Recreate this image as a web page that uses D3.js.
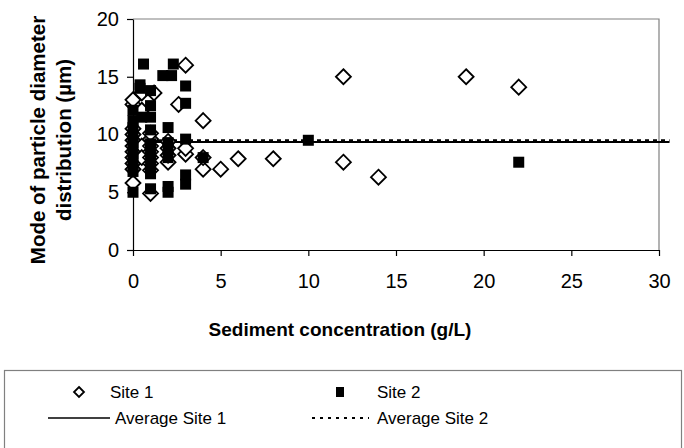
<!DOCTYPE html>
<html>
<head>
<meta charset="utf-8">
<script src="https://cdn.jsdelivr.net/npm/d3@7"></script>
<style>
  body { margin: 0; background: #fff; }
  text { font-family: Arial, "Liberation Sans", sans-serif; fill: #000; }
</style>
</head>
<body>
<div id="chart"></div>
<script>
// Site 1 (open diamonds)
var site1X = [0, 0, 0, 0, 0, 0, 0, 0, 0, 0, 0,
  0.5, 0.5, 0.5, 0.5,
  1, 1, 1, 1, 1, 1, 1, 1, 1.2,
  2, 2, 2, 2, 2.6,
  3, 3, 3, 4, 4, 4, 5, 6, 8, 12, 12, 14, 19, 22];
var site1Y = [5.8, 7.0, 7.5, 8.0, 8.5, 9.0, 9.5, 10.0, 10.5, 12.6, 13.0,
  13.6, 12.1, 9.0, 8.0,
  4.9, 6.9, 7.5, 8.0, 8.5, 9.0, 9.6, 10.1, 13.6,
  7.6, 8.2, 8.8, 9.4, 12.6,
  16.0, 8.3, 8.8, 11.2, 7.0, 8.0, 7.0, 7.9, 7.9, 15.0, 7.6, 6.3, 15.0, 14.1];

// Site 2 (filled squares)
var site2X = [0, 0, 0, 0, 0, 0, 0, 0, 0, 0, 0,
  0.4, 0.4, 0.5, 0.6,
  1, 1, 1, 1, 1, 1, 1, 1, 1, 1,
  1.7, 2, 2, 2, 2, 2, 2, 2.2, 2.3,
  3, 3, 3, 3, 3, 4, 10, 22];
var site2Y = [5.0, 6.8, 7.3, 7.8, 8.3, 8.8, 9.3, 9.8, 10.6, 11.2, 12.1,
  14.3, 14.0, 11.5, 16.1,
  5.3, 6.6, 7.3, 8.0, 8.6, 9.2, 10.4, 11.5, 12.5, 13.8,
  15.1, 5.0, 5.5, 8.0, 8.7, 9.3, 10.6, 15.1, 16.1,
  5.7, 6.5, 9.6, 12.7, 14.2, 8.0, 9.5, 7.6];

// averages
var avgSite1 = 9.35;
var avgSite2 = 9.5;
var avgRange = [0, 30.6];

var xTicks = [0, 5, 10, 15, 20, 25, 30];
var yTicks = [0, 5, 10, 15, 20];

var svgWidth = 684, svgHeight = 448;
var margin = {top: 19, right: 25, bottom: 198, left: 133};
var width = svgWidth - margin.left - margin.right;
var height = svgHeight - margin.top - margin.bottom;

var svg = d3.select('#chart').append('svg')
  .attr('width', svgWidth)
  .attr('height', svgHeight);

var chartGroup = svg.append('g')
  .attr('transform', 'translate(' + margin.left + ',' + margin.top + ')');

var xScale = d3.scaleLinear().domain([0, 30]).range([0, width]);
var yScale = d3.scaleLinear().domain([0, 20]).range([height, 0]);

// frame (top and right in grey)
chartGroup.append('path')
  .attr('d', 'M0,0H' + width + 'V' + height)
  .attr('fill', 'none')
  .attr('stroke', '#808080')
  .attr('stroke-width', 1.2);

var bottomAxis = d3.axisBottom(xScale).tickValues(xTicks).tickSize(6).tickSizeOuter(0);
var leftAxis = d3.axisLeft(yScale).tickValues(yTicks).tickSize(6).tickSizeOuter(0);

var gx = chartGroup.append('g')
  .attr('transform', 'translate(0,' + height + ')')
  .call(bottomAxis);
var gy = chartGroup.append('g').call(leftAxis);

[gx, gy].forEach(function(g) {
  g.selectAll('path, line').attr('stroke', '#000').attr('stroke-width', 1.2);
  g.selectAll('text').style('font-size', '20px').attr('font-family', null);
});
gx.selectAll('text').attr('dy', '0.71em').attr('y', 24);
gy.selectAll('text').attr('x', -14);

// average lines
var line = d3.line()
  .x(function(d) { return xScale(d[0]); })
  .y(function(d) { return yScale(d[1]); });

chartGroup.append('path')
  .datum(avgRange.map(function(x) { return [x, avgSite1]; }))
  .attr('d', line)
  .attr('fill', 'none')
  .attr('stroke', '#000')
  .attr('stroke-width', 2);

chartGroup.append('path')
  .datum(avgRange.map(function(x) { return [x, avgSite2]; }))
  .attr('d', line)
  .attr('fill', 'none')
  .attr('stroke', '#000')
  .attr('stroke-width', 2)
  .attr('stroke-dasharray', '4,4');

var site1 = site1X.map(function(x, i) { return {x: x, y: site1Y[i]}; });
var site2 = site2X.map(function(x, i) { return {x: x, y: site2Y[i]}; });

// Site 1 diamonds (drawn first, squares sit on top)
var dr = 7.5;
function diamond(cx, cy, r) {
  return 'M' + cx + ',' + (cy - r) + 'L' + (cx + r) + ',' + cy +
    'L' + cx + ',' + (cy + r) + 'L' + (cx - r) + ',' + cy + 'Z';
}
chartGroup.selectAll('path.site1')
  .data(site1)
  .enter()
  .append('path')
  .attr('class', 'site1')
  .attr('d', function(d) { return diamond(xScale(d.x), yScale(d.y), dr); })
  .attr('fill', '#fff')
  .attr('stroke', '#000')
  .attr('stroke-width', 1.8);

// Site 2 squares
var sq = 11;
chartGroup.selectAll('rect.site2')
  .data(site2)
  .enter()
  .append('rect')
  .attr('class', 'site2')
  .attr('x', function(d) { return xScale(d.x) - sq / 2; })
  .attr('y', function(d) { return yScale(d.y) - sq / 2; })
  .attr('width', sq)
  .attr('height', sq)
  .attr('fill', '#000');

// axis titles
var yTitle = svg.append('text')
  .attr('transform', 'translate(52,140) rotate(-90)')
  .attr('text-anchor', 'middle')
  .style('font-size', '20.5px')
  .style('font-weight', 'bold');
yTitle.append('tspan').attr('x', 0).attr('dy', '-0.35em').text('Mode of particle diameter');
yTitle.append('tspan').attr('x', 0).attr('dy', '1.3em').text('distribution (µm)');

svg.append('text')
  .attr('x', 340)
  .attr('y', 336)
  .attr('text-anchor', 'middle')
  .style('font-size', '19px')
  .style('font-weight', 'bold')
  .text('Sediment concentration (g/L)');

// legend
var legend = svg.append('g');
legend.append('rect')
  .attr('x', 4.5).attr('y', 370.5)
  .attr('width', 677).attr('height', 90)
  .attr('fill', '#fff')
  .attr('stroke', '#808080')
  .attr('stroke-width', 1.2);

legend.append('path')
  .attr('d', diamond(79, 392, 5))
  .attr('fill', '#fff').attr('stroke', '#000').attr('stroke-width', 1.8);
legend.append('rect')
  .attr('x', 336).attr('y', 387).attr('width', 8).attr('height', 10)
  .attr('fill', '#000');
legend.append('line')
  .attr('x1', 48).attr('x2', 110).attr('y1', 418).attr('y2', 418)
  .attr('stroke', '#000').attr('stroke-width', 1.5);
legend.append('line')
  .attr('x1', 312).attr('x2', 369).attr('y1', 418).attr('y2', 418)
  .attr('stroke', '#000').attr('stroke-width', 2).attr('stroke-dasharray', '3,5');

var legendLabels = [
  {x: 110, y: 398, t: 'Site 1'},
  {x: 377, y: 398, t: 'Site 2'},
  {x: 115, y: 424, t: 'Average Site 1'},
  {x: 377, y: 424, t: 'Average Site 2'}
];
legend.selectAll('text.lbl')
  .data(legendLabels)
  .enter()
  .append('text')
  .attr('class', 'lbl')
  .attr('x', function(d) { return d.x; })
  .attr('y', function(d) { return d.y; })
  .style('font-size', '17px')
  .text(function(d) { return d.t; });
</script>
</body>
</html>
